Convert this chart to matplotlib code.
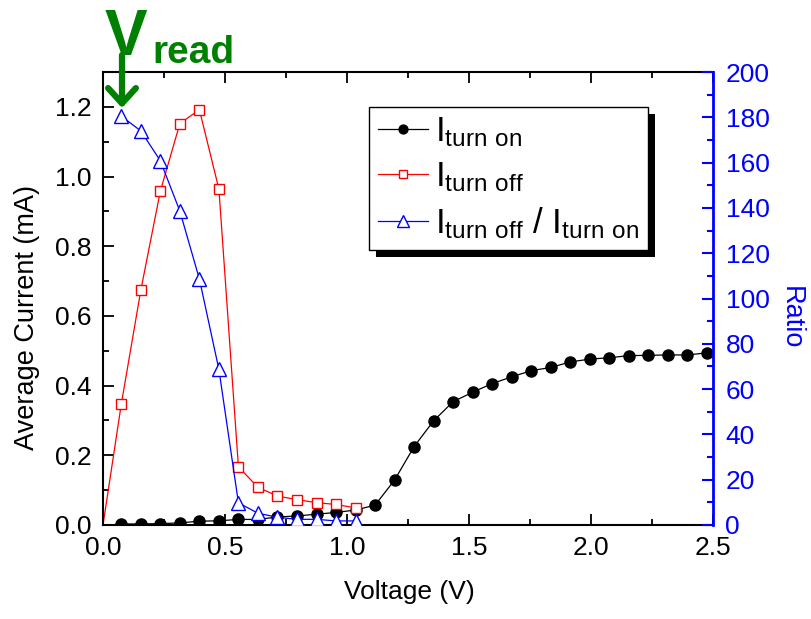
import matplotlib
matplotlib.use('Agg')
import matplotlib.pyplot as plt
from matplotlib.patches import Rectangle
from matplotlib.ticker import MultipleLocator

plt.rcParams['font.family'] = ['Liberation Sans', 'DejaVu Sans']
plt.rcParams['mathtext.fontset'] = 'custom'
plt.rcParams['mathtext.rm'] = 'Liberation Sans'
plt.rcParams['mathtext.default'] = 'regular'

# 電圧 (V)
voltage = [0.075, 0.155, 0.235, 0.315, 0.395, 0.475, 0.555, 0.635, 0.715, 0.795,
           0.875, 0.955, 1.035, 1.115, 1.195, 1.275, 1.355, 1.435, 1.515, 1.595,
           1.675, 1.755, 1.835, 1.915, 1.995, 2.075, 2.155, 2.235, 2.315, 2.395, 2.475]

# I turn on (mA)
i_on = [0.003, 0.003, 0.004, 0.006, 0.011, 0.012, 0.016, 0.016, 0.023, 0.026,
        0.031, 0.036, 0.043, 0.057, 0.129, 0.225, 0.299, 0.354, 0.381, 0.406,
        0.425, 0.443, 0.452, 0.468, 0.476, 0.480, 0.486, 0.487, 0.488, 0.488, 0.494]

# I turn off (mA) 原点から
v_off = [0.0] + voltage[:13]
i_off = [0.0, 0.347, 0.674, 0.958, 1.152, 1.192, 0.964, 0.167, 0.108, 0.083,
         0.073, 0.064, 0.059, 0.049]

# 比 I turn off / I turn on
ratio = [180.5, 174.0, 160.8, 138.6, 108.6, 68.7, 9.8, 5.2, 3.4, 2.5,
         2.5, 1.8, 1.8]

green = '#008000'
blue = '#0000ff'

fig = plt.figure(figsize=(8.12, 6.19), dpi=100)
ax = fig.add_axes([103/812, 1 - 525/619, 610/812, 453/619])
ax2 = ax.twinx()

l1, = ax.plot(voltage, i_on, '-', color='black', lw=0.9, marker='o', ms=8,
              mfc='black', mec='black', label=r'I$_{turn\ on}$')
l2, = ax.plot(v_off, i_off, '-', color='red', lw=0.9, marker='s', ms=7.5,
              mfc='white', mec='red', mew=1.0, markevery=list(range(1, 14)),
              label=r'I$_{turn\ off}$')
l3, = ax2.plot(voltage[:13], ratio, '-', color=blue, lw=0.9, marker='^', ms=10,
               mfc='white', mec=blue, mew=1.0,
               label=r'I$_{turn\ off}$ / I$_{turn\ on}$')

ax.set_xlim(0, 2.5)
ax.set_ylim(0, 1.3)
ax2.set_ylim(0, 200)

ax.xaxis.set_major_locator(MultipleLocator(0.5))
ax.xaxis.set_minor_locator(MultipleLocator(0.25))
ax.yaxis.set_major_locator(MultipleLocator(0.2))
ax.yaxis.set_minor_locator(MultipleLocator(0.1))
ax2.yaxis.set_major_locator(MultipleLocator(20))
ax2.yaxis.set_minor_locator(MultipleLocator(10))

ax.tick_params(which='both', direction='in', top=True, right=False,
               labelsize=19, width=1.3, colors='black', pad=8)
ax.tick_params(which='major', length=8)
ax.tick_params(which='minor', length=4)
ax2.tick_params(which='both', direction='in', colors=blue, labelsize=19,
                width=1.5, pad=9)
ax2.tick_params(which='major', length=8)
ax2.tick_params(which='minor', length=4)

for s in ['left', 'bottom', 'top']:
    ax.spines[s].set_linewidth(1.5)
ax.spines['right'].set_visible(False)
ax2.spines['right'].set_color(blue)
ax2.spines['right'].set_linewidth(2)
for s in ['left', 'bottom', 'top']:
    ax2.spines[s].set_visible(False)

ax.set_xlabel('Voltage (V)', fontsize=19)
ax.xaxis.set_label_coords(0.502, -0.122)
ax.set_ylabel('Average Current (mA)', fontsize=19.5)
ax.yaxis.set_label_coords(-0.125, 0.457)
ax.yaxis.label.set_va('center')
ax2.set_ylabel('Ratio', fontsize=19.5, color=blue, rotation=270)
ax2.yaxis.set_label_coords(1.127, 0.457)
ax2.yaxis.label.set_va('center')

leg = ax2.legend(handles=[l1, l2, l3], loc='upper left',
                 bbox_to_anchor=(0.436, 0.923), borderaxespad=0,
                 fancybox=False, edgecolor='black', framealpha=1,
                 fontsize=25, markerscale=0.8, handlelength=1.45,
                 handletextpad=0.2, labelspacing=0.32, borderpad=0.25)
leg.get_frame().set_linewidth(1.0)

# 凡例の影
fig.canvas.draw()
bb = leg.get_window_extent().transformed(fig.transFigure.inverted())
shadow = Rectangle((bb.x0 + 7/812, bb.y0 - 7/619), bb.width, bb.height,
                   transform=fig.transFigure, facecolor='black',
                   edgecolor='none', zorder=leg.get_zorder() - 0.1)
ax2.add_artist(shadow)
shadow.set_transform(fig.transFigure)
shadow.set_clip_on(False)

# V_read 矢印
ax2.annotate('', xy=(122, 619 - 108), xytext=(122, 619 - 55),
             xycoords='figure pixels', textcoords='figure pixels',
             annotation_clip=False,
             arrowprops=dict(arrowstyle='->,head_length=1.1,head_width=1.0',
                             color=green, lw=4.5, shrinkA=0, shrinkB=0))
fig.text(105/812, 1 - 55/619, 'V', color=green, fontsize=46,
         fontweight='bold', ha='left', va='baseline')
fig.text(152/812, 1 - 63/619, 'read', color=green, fontsize=28,
         fontweight='bold', ha='left', va='baseline')

fig.savefig('out.png', dpi=100)
